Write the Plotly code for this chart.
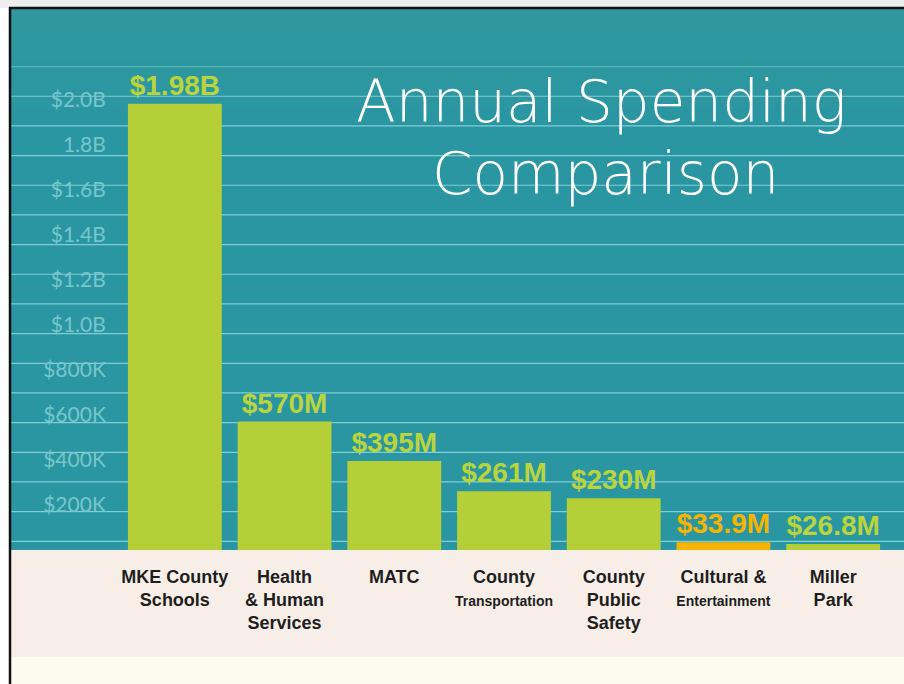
import plotly.graph_objects as go

W, H = 904, 684

# ---- data ----
category_keys = ["MKE County Schools", "Health & Human Services", "MATC",
                 "County Transportation", "County Public Safety",
                 "Cultural & Entertainment", "Miller Park"]
category_labels = ["<b>MKE County<br>Schools</b>",
                   "<b>Health<br>& Human<br>Services</b>",
                   "<b>MATC</b>",
                   "<b>County<br><span style='font-size:14px'>Transportation</span></b>",
                   "<b>County<br>Public<br>Safety</b>",
                   "<b>Cultural &<br><span style='font-size:14px'>Entertainment</span></b>",
                   "<b>Miller<br>Park</b>"]
spending_millions = [1980, 570, 395, 261, 230, 33.9, 26.8]
value_labels = ["$1.98B", "$570M", "$395M", "$261M", "$230M", "$33.9M", "$26.8M"]
ytick_vals = [200, 400, 600, 800, 1000, 1200, 1400, 1600, 1800, 2000]
ytick_text = ["$200K", "$400K", "$600K", "$800K", "$1.0B", "$1.2B",
              "$1.4B", "$1.6B", "1.8B", "$2.0B"]

GREEN = "#b5cf38"
ORANGE = "#f4b400"
bar_colors = [GREEN, GREEN, GREEN, GREEN, GREEN, ORANGE, GREEN]
label_colors = ["#b9d43c", "#b9d43c", "#b9d43c", "#b9d43c", "#b9d43c", "#f5b400", "#b9d43c"]

TEAL = "#2a96a2"


def px(x):
    return x / W


def py(y):
    return 1 - y / H


fig = go.Figure(go.Bar(
    x=category_keys,
    y=spending_millions,
    marker=dict(color=bar_colors, line=dict(width=0)),
    text=value_labels,
    textposition="outside",
    constraintext="none",
    cliponaxis=False,
    textfont=dict(family="Liberation Sans, Arial, sans-serif", size=28,
                  color=label_colors, weight="bold"),
    hoverinfo="skip",
))

shapes = []
# outer frame
shapes.append(dict(type="rect", xref="paper", yref="paper", x0=0, x1=1, y0=py(8), y1=1,
                   fillcolor="#eeeeee", line=dict(width=0), layer="below"))
# teal slide area (slightly greyer towards the top)
shapes.append(dict(type="rect", xref="paper", yref="paper", x0=px(11), x1=1, y0=py(550), y1=py(9),
                   fillcolor=TEAL, line=dict(width=0), layer="below"))
for i, c in enumerate(["#31979e", "#2f979f", "#2d97a0", "#2c96a1"]):
    shapes.append(dict(type="rect", xref="paper", yref="paper", x0=px(11), x1=1,
                       y0=py(9 + 25 * (i + 1)), y1=py(9 + 25 * i),
                       fillcolor=c, line=dict(width=0), layer="below"))
# beige label band
shapes.append(dict(type="rect", xref="paper", yref="paper", x0=px(11), x1=1, y0=py(657), y1=py(550),
                   fillcolor="#f7efe7", line=dict(width=0), layer="below"))
shapes.append(dict(type="rect", xref="paper", yref="paper", x0=px(11), x1=1, y0=0, y1=py(657),
                   fillcolor="#fdfbef", line=dict(width=0), layer="below"))
# decorative stripes of the slide background
y = 541.3
while y > 60:
    alpha = 0.7 if y > 90 else 0.35
    shapes.append(dict(type="line", xref="paper", yref="paper", x0=px(11), x1=1, y0=py(y), y1=py(y),
                       line=dict(color="rgba(165,228,235,%.2f)" % alpha, width=1.2), layer="below"))
    y -= 29.67
# black border lines
shapes.append(dict(type="line", xref="paper", yref="paper", x0=px(10), x1=px(10), y0=0, y1=py(7),
                   line=dict(color="#111111", width=2.5)))
shapes.append(dict(type="line", xref="paper", yref="paper", x0=px(9), x1=1, y0=py(8), y1=py(8),
                   line=dict(color="#111111", width=2.5)))

title_font = dict(family="DejaVu Sans, sans-serif", size=58, color="white", weight=300)
annotations = [
    dict(text="Annual Spending", xref="paper", yref="paper", x=px(601), y=py(102),
         xanchor="center", yanchor="middle", showarrow=False, font=title_font),
    dict(text="Comparison", xref="paper", yref="paper", x=px(605), y=py(174),
         xanchor="center", yanchor="middle", showarrow=False, font=title_font),
]

fig.update_layout(
    width=W, height=H,
    margin=dict(l=0, r=0, t=0, b=0),
    paper_bgcolor="white",
    plot_bgcolor="rgba(0,0,0,0)",
    showlegend=False,
    bargap=0.145,
    shapes=shapes,
    annotations=annotations,
    xaxis=dict(domain=[px(120), px(888)], range=[-0.5, 6.5],
               tickvals=category_keys, ticktext=category_labels,
               ticks="outside", ticklen=10, tickcolor="rgba(0,0,0,0)",
               tickfont=dict(family="Liberation Sans, Arial, sans-serif", size=18, color="#1e1e1e"),
               showgrid=False, showline=False, zeroline=False, fixedrange=True),
    yaxis=dict(domain=[py(550), py(9)], range=[0, 2400],
               tickvals=ytick_vals, ticktext=ytick_text,
               ticks="outside", ticklen=9, tickcolor="rgba(0,0,0,0)",
               tickfont=dict(family="Lato, Open Sans, sans-serif", size=21, color="#76c7cc"),
               showgrid=False, showline=False, zeroline=False, fixedrange=True),
)

fig.write_html("out.html")
